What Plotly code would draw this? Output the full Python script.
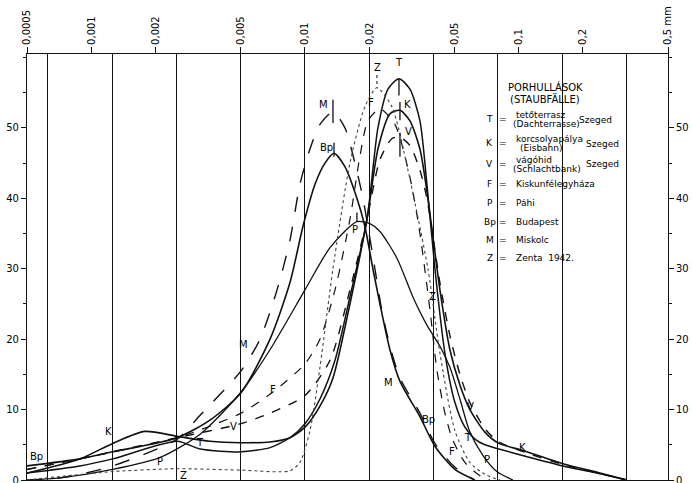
import numpy as np
import plotly.graph_objects as go

# ---------------- data (grain size in mm, share in %) ----------------
T_size = [0.0005, 0.000885, 0.00126, 0.00252, 0.00323, 0.00502, 0.00686, 0.0085, 0.01, 0.01175, 0.01382, 0.01623, 0.0195, 0.02195, 0.02446, 0.02753, 0.03099, 0.03451, 0.03721, 0.04056, 0.04518, 0.05032, 0.05603, 0.0624, 0.06949, 0.08078, 0.1129, 0.1611, 0.2401, 0.3211]
T_pct = [1.0, 2.0, 3.0, 5.5, 4.4, 4.0, 4.6, 6.0, 8.0, 11.5, 17, 26, 37, 50, 55.5, 57, 55.5, 51, 42, 30, 18, 11, 7.5, 5.8, 5.0, 4.4, 3.2, 2.0, 0.9, 0]

K_size = [0.0005, 0.000885, 0.00126, 0.00178, 0.00252, 0.00359, 0.00502, 0.00686, 0.0085, 0.01, 0.01175, 0.01352, 0.01623, 0.0195, 0.02195, 0.02498, 0.02783, 0.03099, 0.03451, 0.03721, 0.04281, 0.04768, 0.0531, 0.05913, 0.06949, 0.08078, 0.1045, 0.1611, 0.2401, 0.3211]
K_pct = [1.0, 3.0, 5.2, 6.9, 6.2, 5.5, 5.3, 5.4, 6.0, 7.5, 10.5, 14.5, 25, 37, 47, 52, 52.5, 51, 47, 41, 27, 18.5, 13.5, 10, 6.8, 5.2, 4.2, 2.3, 1.0, 0]

V_size = [0.0005, 0.000885, 0.00126, 0.00252, 0.00502, 0.00686, 0.01, 0.0131, 0.01623, 0.0195, 0.02243, 0.02553, 0.02783, 0.03099, 0.03451, 0.03721, 0.04281, 0.04768, 0.0531, 0.05913, 0.06949, 0.08078, 0.1129, 0.1611, 0.2401, 0.3211]
V_pct = [1.5, 3.0, 4.0, 6.0, 8.0, 9.5, 12, 17, 27, 37, 45.5, 48.5, 48.7, 47.5, 44, 40, 28, 20.5, 15, 11, 7.3, 5.4, 3.7, 2.2, 0.9, 0]

F_size = [0.0005, 0.00126, 0.00252, 0.00502, 0.00708, 0.01, 0.01175, 0.01382, 0.01623, 0.01808, 0.0197, 0.02243, 0.02636, 0.03099, 0.03451, 0.0385, 0.0415, 0.04518, 0.04897, 0.05603, 0.06585, 0.07334]
F_pct = [1.5, 4.0, 6.0, 9.5, 12.5, 16.5, 20, 27, 37, 46, 51, 52.7, 50.5, 43, 35, 24, 15.5, 9.5, 5.8, 2.5, 0.6, 0]

P_size = [0.0005, 0.000714, 0.00126, 0.0021, 0.00323, 0.00502, 0.00686, 0.01, 0.0131, 0.0175, 0.02013, 0.02243, 0.02694, 0.032, 0.03721, 0.04281, 0.04768, 0.0531, 0.05913, 0.068, 0.079, 0.094]
P_pct = [0, 0.3, 1.5, 3.2, 6.5, 12.5, 18.5, 27, 33, 36.7, 36.4, 35.3, 31.5, 26, 22, 19, 16, 11.5, 6.8, 3.5, 1.2, 0]

Bp_size = [0.0005, 0.000885, 0.00126, 0.00252, 0.00359, 0.00502, 0.00686, 0.0085, 0.00978, 0.01114, 0.0124, 0.01367, 0.01538, 0.0175, 0.01907, 0.02079, 0.02243, 0.02498, 0.02783, 0.03451, 0.04056, 0.05032, 0.0624]
Bp_pct = [2.0, 3.0, 4.0, 6.0, 8.5, 12.4, 20, 28, 36, 42, 45, 46.4, 44.5, 40, 36, 30, 25, 18.5, 14, 9, 4.8, 1.5, 0]

M_size = [0.0005, 0.000641, 0.000885, 0.00126, 0.00252, 0.00323, 0.00502, 0.00616, 0.0074, 0.0085, 0.00947, 0.01055, 0.01175, 0.01352, 0.01538, 0.01713, 0.01868, 0.0197, 0.02125, 0.02292, 0.02498, 0.02783, 0.03451, 0.04056, 0.05032, 0.0624]
M_pct = [0, 0.1, 0.8, 2.0, 5.8, 9.2, 15.5, 20, 27, 34, 42, 47, 50.5, 52.3, 50, 45, 40, 36, 30, 24, 19, 14.5, 9.5, 5.2, 1.8, 0]

Z_size = [0.0005, 0.000714, 0.00126, 0.00252, 0.00502, 0.0085, 0.00947, 0.01055, 0.01175, 0.01352, 0.01623, 0.01907, 0.02171, 0.02553, 0.03033, 0.03762, 0.04281, 0.05032, 0.05913, 0.06949, 0.0817]
Z_pct = [0.0, 0.5, 1.2, 1.6, 1.4, 1.3, 2.5, 7, 16, 30, 45, 53, 55.7, 53, 44, 30, 18, 7, 2.5, 0.8, 0]

# axis labels
top_tick_sizes = [0.0005, 0.001, 0.002, 0.005, 0.01, 0.02, 0.05, 0.1, 0.2, 0.5]
top_tick_text = ["0,0005", "0,001", "0,002", "0,005", "0,01", "0,02", "0,05", "0,1", "0,2", "0,5 mm"]
grid_sizes = [0.000625, 0.00125, 0.0025, 0.005, 0.01, 0.02, 0.04, 0.08, 0.16, 0.32]
pct_ticks = [0, 10, 20, 30, 40, 50]

# ---------------- figure ----------------
INK = "#111111"
series = [
    ("T", T_size, T_pct, "solid", 1.5, INK),
    ("K", K_size, K_pct, "solid", 1.6, INK),
    ("V", V_size, V_pct, "dash", 1.4, INK),
    ("F", F_size, F_pct, "dash", 1.2, INK),
    ("P", P_size, P_pct, "solid", 1.3, INK),
    ("Bp", Bp_size, Bp_pct, "solid", 1.6, INK),
    ("M", M_size, M_pct, "longdash", 1.4, INK),
    ("Z", Z_size, Z_pct, "dot", 1.1, "#444444"),
]

fig = go.Figure()
for name, xs, ys, dash, w, col in series:
    fig.add_trace(go.Scatter(x=xs, y=ys, mode="lines", name=name,
                             line=dict(color=col, width=w, dash=dash, shape="spline", smoothing=0.7),
                             showlegend=False, hoverinfo="skip"))

# peak marker strokes (derived from each series' maximum)
peak_marks = {"T": (0.0, -2.4), "K": (1.2, -1.4), "V": (0.6, -2.8), "Bp": (1.5, -0.5),
              "M": (1.7, -1.6), "P": (1.3, 0.0), "Z": (1.8, 0.0)}
for name, xs, ys, dash, w, col in series:
    if name in peak_marks:
        i = int(np.argmax(ys))
        up, dn = peak_marks[name]
        fig.add_trace(go.Scatter(x=[xs[i], xs[i]], y=[ys[i] + up, ys[i] + dn], mode="lines",
                                 line=dict(color=col, width=1.3, dash="dot" if name == "Z" else "solid"),
                                 showlegend=False, hoverinfo="skip"))

# right axis helper trace (invisible)
fig.add_trace(go.Scatter(x=[top_tick_sizes[0]], y=[pct_ticks[0]], yaxis="y2", mode="markers",
                         marker=dict(opacity=0), showlegend=False, hoverinfo="skip"))

W, H = 692, 483
L, R, TOP, BOT = 27, 668, 54, 480.5


def paper(px, py):
    return (px - L) / (R - L), (BOT - py) / (BOT - TOP)


annotations = []
FONT = dict(family="DejaVu Sans", size=9, color="#000000")
LFONT = dict(family="DejaVu Sans", size=10, color="#000000")

# curve labels (given in pixel positions of the drawing)
curve_labels = [
    ("K", 108, 432), ("Bp", 36, 457), ("T", 200, 443), ("P", 160, 462), ("Z", 183, 476),
    ("V", 233, 427), ("F", 273, 390), ("M", 243, 345),
    ("M", 323, 105), ("Bp", 326, 148), ("F", 371, 103), ("Z", 377, 68), ("T", 399, 63),
    ("K", 407, 105), ("V", 408, 132), ("P", 355, 230),
    ("M", 388, 383), ("Bp", 428, 420), ("Z", 432, 297), ("V", 470, 407), ("T", 468, 438),
    ("F", 452, 452), ("P", 487, 460), ("K", 522, 448),
]
for txt, px, py in curve_labels:
    x, y = paper(px, py)
    annotations.append(dict(x=x, y=y, xref="paper", yref="paper", text=txt, showarrow=False,
                            font=LFONT, xanchor="center", yanchor="middle"))

# legend block
TFONT = dict(family="DejaVu Sans", size=10, color="#000000")
legend_lines = [
    ("PORHULLÁSOK", 545, 87, "center", TFONT),
    ("(STAUBFÄLLE)", 545, 99, "center", TFONT),
    ("T", 490, 119, "center", FONT), ("=", 503, 119, "center", FONT),
    ("tetőterrasz", 514, 115, "left", FONT), ("(Dachterrasse)", 511, 124, "left", FONT), ("Szeged", 577, 120, "left", FONT),
    ("K", 490, 143, "center", FONT), ("=", 503, 143, "center", FONT),
    ("korcsolyapálya", 514, 139, "left", FONT), ("(Eisbahn)", 518, 148, "left", FONT), ("Szeged", 584, 144, "left", FONT),
    ("V", 490, 164, "center", FONT), ("=", 503, 164, "center", FONT),
    ("vágóhid", 514, 160, "left", FONT), ("(Schlachtbank)", 511, 169, "left", FONT), ("Szeged", 584, 164, "left", FONT),
    ("F", 490, 184, "center", FONT), ("=", 503, 184, "center", FONT), ("Kiskunfélegyháza", 514, 184, "left", FONT),
    ("P", 490, 203, "center", FONT), ("=", 503, 203, "center", FONT), ("Páhi", 514, 203, "left", FONT),
    ("Bp", 490, 222, "center", FONT), ("=", 503, 222, "center", FONT), ("Budapest", 514, 222, "left", FONT),
    ("M", 490, 240, "center", FONT), ("=", 503, 240, "center", FONT), ("Miskolc", 514, 240, "left", FONT),
    ("Z", 490, 258, "center", FONT), ("=", 503, 258, "center", FONT), ("Zenta  1942.", 514, 258, "left", FONT),
]
for txt, px, py, anc, fnt in legend_lines:
    x, y = paper(px, py)
    annotations.append(dict(x=x, y=y, xref="paper", yref="paper", text=txt, showarrow=False,
                            font=fnt, xanchor=anc, yanchor="middle"))

# white panels under legend text (interrupt the grid lines)
shapes = []
for (x0, y0, x1, y1) in [(505, 70, 600, 108), (484, 108, 622, 266)]:
    a0, b0 = paper(x0, y1)
    a1, b1 = paper(x1, y0)
    shapes.append(dict(type="rect", xref="paper", yref="paper", x0=a0, y0=b0, x1=a1, y1=b1,
                       fillcolor="white", line=dict(width=0), layer="below"))

fig.update_layout(
    width=W, height=H,
    margin=dict(l=L, r=W - R, t=TOP, b=H - BOT),
    paper_bgcolor="white", plot_bgcolor="white",
    font=dict(family="DejaVu Sans", size=10, color="#000000"),
    annotations=annotations, shapes=shapes,
    xaxis=dict(type="log", range=[np.log10(0.0005), np.log10(0.5)], side="top", automargin=False,
               tickvals=top_tick_sizes, ticktext=top_tick_text, tickangle=-90,
               ticks="outside", ticklen=6, tickwidth=1, tickcolor=INK,
               showgrid=False, zeroline=False, showline=True, linecolor=INK, linewidth=1.2, mirror=True,
               tickfont=dict(size=10),
               minor=dict(tickvals=grid_sizes, showgrid=True, gridcolor=INK, gridwidth=1, ticks="")),
    yaxis=dict(range=[0, 60.5], tickvals=pct_ticks, ticks="outside", ticklen=5, tickcolor=INK, automargin=False,
               showgrid=False, zeroline=False, showline=True, linecolor=INK, linewidth=1.2, mirror=True,
               tickfont=dict(size=10), ticklabeloverflow="allow",
               minor=dict(dtick=5, ticks="outside", ticklen=3, tickcolor=INK)),
    yaxis2=dict(range=[0, 60.5], overlaying="y", side="right", tickvals=pct_ticks, ticks="outside",
                ticklen=5, tickcolor=INK, showgrid=False, zeroline=False, showline=False, automargin=False,
                tickfont=dict(size=10), ticklabeloverflow="allow",
                minor=dict(dtick=5, ticks="outside", ticklen=3, tickcolor=INK)),
)

fig.write_html("out.html", config={"displayModeBar": False},
               post_script="document.body.style.margin='0px';document.body.style.overflow='hidden';")
